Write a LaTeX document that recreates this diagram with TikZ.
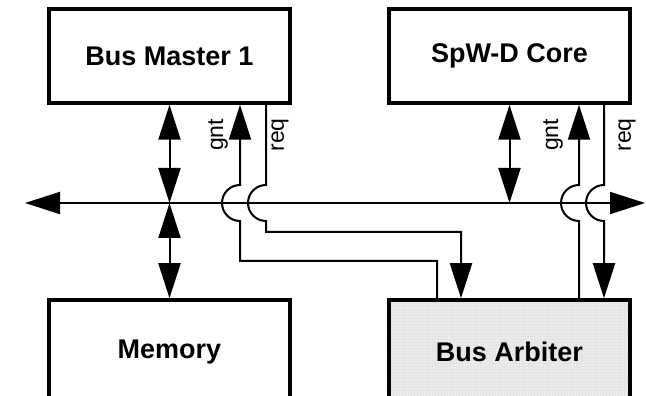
\documentclass[tikz,border=0pt]{standalone}
\usepackage{fontspec}
\setmainfont{Liberation Sans}
\usepackage{tikz}
\usetikzlibrary{arrows.meta,patterns}
\definecolor{arbfill}{RGB}{236,236,236}
\definecolor{arbgrid}{RGB}{228,228,228}
\tikzset{
  >={Triangle[length=35pt,width=22pt]},
  unit/.style={draw,line width=3.5pt,inner sep=0pt,minimum width=241pt,minimum height=94pt,
    font=\fontsize{27}{32}\selectfont\bfseries},
  lowunit/.style={unit,minimum height=104pt},
  wire/.style={line width=2pt},
  sig/.style={font=\fontsize{23}{27}\selectfont,rotate=90,inner sep=0pt}
}

\begin{document}
\begin{tikzpicture}[x=1pt,y=1pt]
  \useasboundingbox (0,0) rectangle (646,396);
  \node[unit] (master) at (169.5,340) {Bus Master 1};
  \node[unit] (core) at (509.5,340) {SpW-D Core};
  \node[lowunit] (memory) at (169.5,44) {Memory};
  \node[lowunit,preaction={fill=arbfill},pattern=grid,pattern color=arbgrid] (arbiter) at (509.5,44) {Bus Arbiter};

  \coordinate (busW) at (25,193);
  \coordinate (busE) at (645,193);
  \coordinate (gA) at (240,193);
  \coordinate (rA) at (266,193);
  \coordinate (gB) at (579,193);
  \coordinate (rB) at (604,193);

  \draw[wire,<->] (busW) -- (busE);
  \draw[wire,<->] (master.south) -- (master.south |- busW);
  \draw[wire,<->] (memory.north |- busW) -- (memory.north);
  \draw[wire,<->] (core.south) -- (core.south |- busW);

  \draw[wire,->] ([xshift=-72.5pt]arbiter.north) |- ([yshift=-58pt]gA) -- ([yshift=-18pt]gA)
    arc[start angle=270,end angle=90,radius=18pt] -- (master.south -| gA);
  \draw[wire,->] (master.south -| rA) -- ([yshift=18pt]rA)
    arc[start angle=90,end angle=270,radius=18pt] -- ([yshift=-29pt]rA) -| ([xshift=-48.5pt]arbiter.north);
  \draw[wire,->] (arbiter.north -| gB) -- ([yshift=-18pt]gB)
    arc[start angle=270,end angle=90,radius=18pt] -- (core.south -| gB);
  \draw[wire,->] (core.south -| rB) -- ([yshift=18pt]rB)
    arc[start angle=90,end angle=270,radius=18pt] -- (arbiter.north -| rB);

  \node[sig] (gntA) at (218,261) {gnt};
  \node[sig] (reqA) at (280,261) {req};
  \node[sig] (gntB) at (553,261) {gnt};
  \node[sig] (reqB) at (627,261) {req};
\end{tikzpicture}
\end{document}
